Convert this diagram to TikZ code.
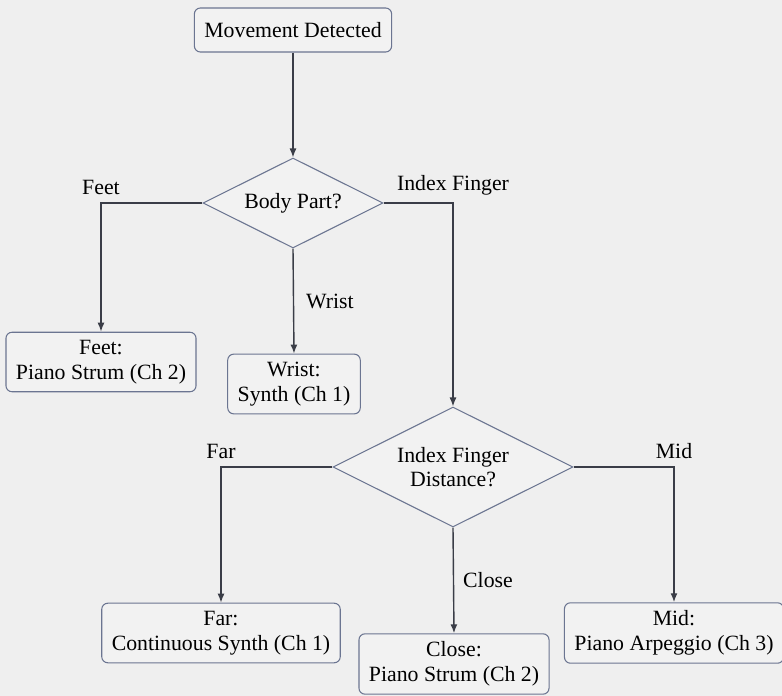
\documentclass[tikz,border=0pt]{standalone}
\usepackage{fontspec}
\setmainfont{Liberation Serif}
\usetikzlibrary{shapes.geometric,arrows.meta}

\definecolor{canvas}{HTML}{EFEFEF}
\definecolor{boxfill}{HTML}{F2F2F2}
\definecolor{boxline}{HTML}{6B7591}
\definecolor{wire}{HTML}{3A3D47}

\tikzset{
  stepbox/.style={draw=boxline,fill=boxfill,line width=0.6pt,rounded corners=0.12cm,
    align=center,inner xsep=0.2cm,inner ysep=0.16cm,minimum height=0.88cm},
  choice/.style={draw=boxline,fill=boxfill,line width=0.6pt,diamond,aspect=2,
    align=center,inner sep=0pt},
  link/.style={draw=wire,line width=0.8pt,-{Latex[length=1.8mm,width=1.4mm]}},
  tag/.style={inner sep=0pt,text=black}
}

\begin{document}
\begin{tikzpicture}[x=0.02cm,y=-0.02cm,font=\fontsize{12.4}{14}\selectfont]
	\useasboundingbox[fill=canvas] (0,0) rectangle (782,696);

	\coordinate (start) at (293,30);
	\coordinate (part) at (293,203);
	\coordinate (feet) at (101,362);
	\coordinate (wrist) at (294,384);
	\coordinate (dist) at (453,467);
	\coordinate (far) at (221,633);
	\coordinate (close) at (454,664);
	\coordinate (mid) at (674,633);

	\node[stepbox] (Start) at (start) {Movement Detected};
	\node[choice,minimum width=3.6cm,minimum height=1.8cm] (Part) at (part) {Body Part?};
	\node[stepbox] (Feet) at (feet) {Feet:\\Piano Strum (Ch 2)};
	\node[stepbox] (Wrist) at (wrist) {Wrist:\\Synth (Ch 1)};
	\node[choice,minimum width=4.8cm,minimum height=2.4cm] (Dist) at (dist) {Index Finger\\Distance?};
	\node[stepbox] (Far) at (far) {Far:\\Continuous Synth (Ch 1)};
	\node[stepbox] (Close) at (close) {Close:\\Piano Strum (Ch 2)};
	\node[stepbox] (Mid) at (mid) {Mid:\\Piano Arpeggio (Ch 3)};

	\draw[link] (Start) -- (Part);
	\draw[link] (Part.west) -| node[tag,pos=0.5,above=1.5mm] {Feet} (Feet.north);
	\draw[link] (Part.south) -- node[tag,right=2.4mm] {Wrist} (Wrist.north);
	\draw[link] (Part.east) -| node[tag,pos=0.5,above=1.5mm] {Index Finger} (Dist.north);
	\draw[link] (Dist.west) -| node[tag,pos=0.5,above=1.5mm] {Far} (Far.north);
	\draw[link] (Dist.south) -- node[tag,right=1.8mm] {Close} (Close.north);
	\draw[link] (Dist.east) -| node[tag,pos=0.5,above=1.5mm] {Mid} (Mid.north);
\end{tikzpicture}
\end{document}
